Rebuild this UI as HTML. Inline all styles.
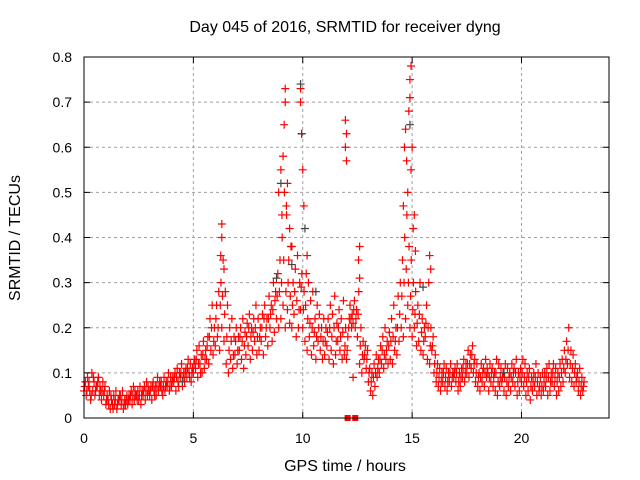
<!DOCTYPE html>
<html><head><meta charset="utf-8"><style>
body{margin:0;background:#fff;}
svg{display:block;font-family:"Liberation Sans",sans-serif;}
</style></head><body>
<svg id="chart" width="640" height="480" viewBox="0 0 640 480">
<rect width="640" height="480" fill="#fff"/>
<text x="345" y="32" font-size="16" text-anchor="middle">Day 045 of 2016, SRMTID for receiver dyng</text>
<text x="345" y="471" font-size="16" text-anchor="middle">GPS time / hours</text>
<text x="0" y="0" font-size="16" text-anchor="middle" transform="translate(20,238) rotate(-90)">SRMTID / TECUs</text>
<g id="grid"></g><g id="marks"></g>
<rect x="84" y="57" width="525" height="361" fill="none" stroke="#000" stroke-width="1"/>
<g id="axes"></g>
</svg>
<script>
const t0 = 0, step = 0.1;
const valsLow = [.06,.05,.07,.04,.06,.05,.07,.05,.04,.05, .03,.04,.02,.03,.03,.02,.04,.03,.02,.03, .03,.04,.03,.04,.05,.04,.03,.05,.04,.05, .05,.04,.06,.05,.06,.07,.05,.06,.07,.06, .07,.08,.06,.08,.09,.07,.08,.09,.1,.08, .1,.11,.09,.12,.1,.11,.13,.12,.15,.14, .16,.18,.15,.2,.17,.12,.1,.13,.11,.14, .12,.15,.13,.11,.14,.16,.13,.15,.17,.14, .15,.17,.14,.18,.16,.2,.17,.19,.22,.2, .22,.25,.2,.24,.21,.2,.23,.18,.2,.24, .2,.17,.15,.18,.14,.16,.13,.17,.15,.13, .14,.16,.13,.15,.12,.14,.17,.15,.13,.14, .13,.2,.22,.21,.2,.18,.12,.1,.13,.11, .08,.06,.05,.07,.09,.1,.12,.11,.13,.12, .13,.12,.15,.14,.17,.2,.18,.22,.25,.2, .18,.2,.16,.17,.15,.14,.18,.13,.12,.15, .1,.08,.07,.06,.08,.07,.06,.08,.07,.09, .08,.06,.07,.09,.08,.1,.09,.11,.1,.08, .07,.06,.08,.07,.09,.06,.08,.07,.06,.05, .07,.08,.06,.05,.07,.06,.08,.07,.05,.06, .08,.07,.05,.06,.04,.06,.07,.05,.06,.05, .06,.07,.05,.06,.08,.07,.05,.06,.07,.08, .1,.12,.09,.08,.07,.08,.06,.05,.06];
const valsHigh = [.08,.09,.06,.1,.08,.07,.09,.06,.08,.07, .05,.06,.04,.05,.06,.04,.05,.06,.04,.05, .05,.06,.07,.05,.06,.07,.06,.07,.08,.06, .07,.08,.07,.09,.08,.06,.09,.08,.1,.09, .09,.1,.11,.1,.12,.1,.11,.13,.12,.11, .13,.15,.16,.14,.17,.15,.18,.22,.25,.2, .25,.28,.3,.35,.28,.25,.2,.22,.18,.2, .18,.2,.22,.19,.21,.23,.2,.22,.25,.22, .2,.23,.25,.22,.27,.25,.3,.28,.32,.35, .4,.5,.45,.35,.38,.3,.33,.36,.3,.32, .28,.32,.3,.26,.28,.22,.25,.23,.2,.22, .2,.22,.25,.23,.27,.21,.24,.22,.26,.2, .18,.25,.23,.26,.24,.28,.2,.17,.16,.15, .11,.1,.12,.14,.13,.16,.18,.2,.17,.19, .22,.25,.2,.27,.3,.35,.4,.45,.38,.35, .3,.28,.25,.3,.22,.2,.25,.3,.2,.18, .14,.12,.11,.1,.12,.11,.1,.12,.1,.11, .12,.1,.11,.13,.12,.15,.14,.16,.13,.12, .1,.12,.11,.13,.1,.12,.11,.1,.13,.12, .11,.1,.12,.11,.1,.12,.11,.13,.1,.11, .13,.12,.1,.11,.09,.1,.12,.1,.09,.1, .1,.11,.12,.1,.12,.11,.1,.12,.13,.15, .17,.2,.15,.14,.12,.1,.11,.09,.08];
const valsMid = [.07,.06,.08,.05,.09,.06,.08,.07,.06,.06, .04,.03,.05,.02,.04,.03,.05,.04,.03,.04, .04,.05,.05,.06,.04,.05,.05,.06,.06,.07, .06,.07,.05,.07,.07,.08,.07,.07,.08,.07, .08,.09,.09,.07,.1,.09,.1,.11,.09,.1, .12,.13,.12,.1,.14,.13,.16,.18,.2,.17, .22,.2,.25,.27,.23,.18,.15,.17,.14,.17, .15,.18,.17,.16,.18,.2,.18,.19,.2,.18, .18,.2,.22,.2,.22,.23,.24,.26,.27,.28, .3,.35,.28,.3,.27,.25,.28,.26,.24,.29, .24,.25,.22,.21,.2,.19,.18,.2,.18,.17, .17,.19,.2,.18,.2,.17,.2,.18,.19,.16, .15,.22,.2,.24,.22,.23,.16,.14,.14,.13, .1,.08,.09,.1,.11,.13,.15,.14,.15,.16, .17,.18,.17,.2,.23,.27,.3,.33,.3,.27, .24,.23,.21,.23,.19,.17,.21,.2,.16,.16, .12,.1,.09,.08,.1,.09,.08,.1,.09,.1, .1,.08,.09,.11,.1,.12,.12,.14,.12,.1, .09,.09,.1,.1,.11,.09,.1,.09,.1,.08, .09,.09,.09,.08,.09,.09,.1,.1,.08,.09, .1,.09,.08,.09,.07,.08,.09,.08,.07,.07, .08,.09,.09,.08,.1,.09,.08,.09,.1,.11, .13,.15,.12,.11,.1,.09,.08,.07,.07];
const spikeTimes = [6.3,6.3,6.25,6.4,9.0,9.1,9.2,9.2,9.15,9.3,9.25,9.4,9.9,9.9,9.95,10.0,10.05,11.95,12.0,11.95,12.0,12.3,12.6,12.55,12.6,14.6,14.65,14.7,14.75,14.8,14.85,14.9,14.95,14.9,15.0,14.95,15.1,15.05,15.15,15.8,15.85,8.9,9.05,9.5,10.2];
const spikeVals = [.43,.4,.36,.33,.55,.58,.73,.7,.65,.52,.47,.42,.73,.7,.63,.55,.47,.66,.63,.6,.57,.09,.38,.35,.31,.47,.6,.64,.57,.5,.68,.75,.78,.71,.6,.55,.45,.42,.37,.36,.33,.5,.45,.38,.36];
const grayTimes = [9.9,9.95,9.0,9.5,10.1,14.9,15.5,19.2,4.5,8.8,10.6];
const grayVals = [.74,.63,.52,.34,.42,.65,.29,.1,.08,.31,.28];
const zeroTimes = [12.05,12.4];
const xTicks = [0,5,10,15,20];
const yTicks = [0,0.1,0.2,0.3,0.4,0.5,0.6,0.7,0.8];
const yTickLabels = ["0","0.1","0.2","0.3","0.4","0.5","0.6","0.7","0.8"];

const X0=84,X1=609,Y0=418,Y1=57,XMAX=24,YMAX=0.8;
const sx=t=>X0+(t/XMAX)*(X1-X0);
const sy=v=>Y0-(v/YMAX)*(Y0-Y1);
const NS="http://www.w3.org/2000/svg";
const grid=document.getElementById('grid'),marks=document.getElementById('marks'),axes=document.getElementById('axes');
function mk(tag,attrs,parent){const e=document.createElementNS(NS,tag);for(const k in attrs)e.setAttribute(k,attrs[k]);parent.appendChild(e);return e;}
yTicks.forEach((v,i)=>{
  const y=sy(v);
  if(v>0&&v<YMAX){const g=mk('line',{x1:X0,x2:X1,y1:y,y2:y,stroke:'#a0a0a0','stroke-dasharray':'3,3'},grid);
  
  }
  const tk=mk('path',{d:`M${X0},${y}h6M${X1},${y}h-6`,stroke:'#000'},axes);
  
  
  const l=mk('text',{x:72,y:y+5,'font-size':14,'text-anchor':'end'},axes);l.textContent=yTickLabels[i];
  
  
});
xTicks.forEach(t=>{
  const x=sx(t);
  if(t>0){const g=mk('line',{x1:x,x2:x,y1:Y0,y2:Y1,stroke:'#a0a0a0','stroke-dasharray':'3,3'},grid);
  
  }
  const tk=mk('path',{d:`M${x},${Y0}v-6M${x},${Y1}v6`,stroke:'#000'},axes);
  
  
  const l=mk('text',{x:x,y:443,'font-size':14,'text-anchor':'middle'},axes);l.textContent=String(t);
  
  
});
function plus(t,v,col,name){
  const x=sx(t),y=sy(v);
  const p=mk('path',{d:`M${x-4},${y}h8M${x},${y-4}v8`,stroke:col,'stroke-width':1.2},marks);
  
  
}
valsLow.forEach((v,i)=>plus(t0+i*step,v,'#f00','point-low'));
valsMid.forEach((v,i)=>plus(t0+i*step+0.03,v,'#f00','point-mid'));
valsHigh.forEach((v,i)=>plus(t0+i*step+0.06,v,'#f00','point-high'));
spikeTimes.forEach((t,i)=>plus(t,spikeVals[i],'#f00','point-spike'));
grayTimes.forEach((t,i)=>plus(t,grayVals[i],'#444','point-gray'));
zeroTimes.forEach(t=>{
  const r=mk('rect',{x:sx(t)-3,y:sy(0)-3,width:6,height:6,fill:'#f00'},marks);
  
  
});
</script>
</body></html>
